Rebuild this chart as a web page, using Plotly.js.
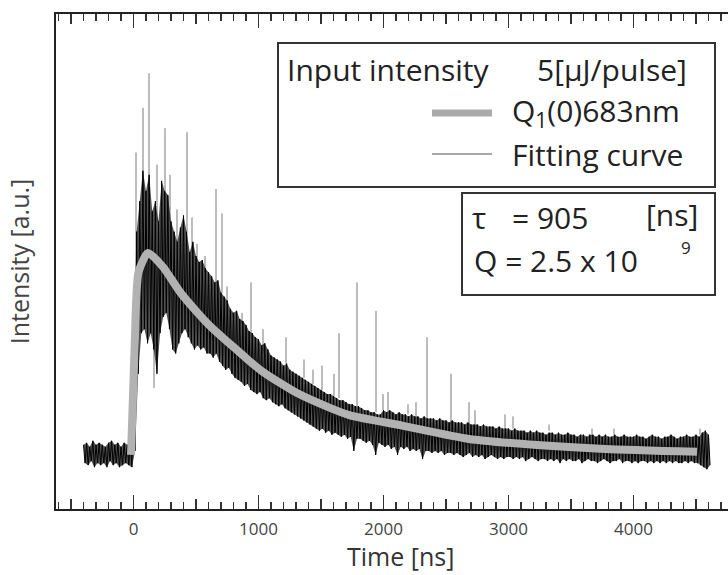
<!DOCTYPE html>
<html>
<head>
<meta charset="utf-8">
<script src="https://cdn.plot.ly/plotly-3.0.1.min.js"></script>
<style>
html,body{margin:0;padding:0;background:#fff;}
#chart{width:728px;height:575px;}
</style>
</head>
<body>
<div id="chart"></div>
<script>
// ---- Data (time in ns, intensity in arbitrary units, baseline = 0) ----
const sampleStartNs = -400;
const sampleStepNs = 25;

// upper / lower excursions of the noisy measured trace, one pair per 25 ns sample
const traceHigh = [
  0.05,0.06,0.04,0.07,0.05,0.06,0.05,0.04,0.06,0.07,0.05,0.06,0.04,0.06,0.05,0.07,
  0.35,1.10,1.25,1.40,1.30,1.38,1.20,1.25,1.15,1.35, 1.30,1.28,1.15,1.10,1.05,1.12,1.18,1.10,1.00,1.05,
  0.98,0.95,0.96,0.92,0.90,0.88,0.85,0.86,0.80,0.78, 0.76,0.72,0.70,0.71,0.67,0.66,0.64,0.61,0.60,0.58,
  0.57,0.54,0.55,0.52,0.49,0.48,0.47,0.46,0.44,0.45, 0.42,0.41,0.40,0.39,0.38,0.37,0.36,0.35,0.34,0.33,
  0.32,0.31,0.30,0.30,0.29,0.28,0.27,0.27,0.26,0.25, 0.25,0.24,0.24,0.23,0.22,0.22,0.21,0.21,0.20,0.20,
  0.22,0.21,0.22,0.21,0.20,0.21,0.20,0.20,0.19,0.20, 0.19,0.19,0.18,0.19,0.18,0.18,0.18,0.17,0.18,0.17,
  0.17,0.16,0.17,0.16,0.16,0.16,0.15,0.16,0.15,0.15, 0.15,0.14,0.15,0.14,0.14,0.14,0.13,0.14,0.13,0.13,
  0.13,0.12,0.13,0.12,0.12,0.12,0.11,0.12,0.11,0.12, 0.11,0.11,0.10,0.11,0.11,0.10,0.11,0.10,0.10,0.11,
  0.10,0.10,0.09,0.10,0.10,0.09,0.10,0.10,0.09,0.10, 0.09,0.10,0.09,0.09,0.10,0.09,0.09,0.10,0.09,0.09,
  0.09,0.10,0.09,0.09,0.08,0.09,0.10,0.09,0.09,0.08, 0.09,0.09,0.10,0.09,0.08,0.09,0.09,0.10,0.09,0.09,
  0.10,0.09,0.11,0.12,0.10
];
const traceLow = [
  -0.04,-0.05,-0.03,-0.06,-0.04,-0.05,-0.04,-0.06,-0.03,-0.05,-0.04,-0.06,-0.05,-0.04,-0.05,-0.06,
  0.02,0.40,0.60,0.62,0.55,0.60,0.52,0.40,0.60,0.68, 0.70,0.62,0.52,0.50,0.55,0.60,0.62,0.58,0.55,0.52,
  0.54,0.52,0.53,0.50,0.50,0.48,0.50,0.46,0.44,0.42, 0.43,0.40,0.38,0.37,0.36,0.34,0.35,0.32,0.31,0.30,
  0.31,0.28,0.27,0.28,0.26,0.25,0.24,0.25,0.23,0.22, 0.21,0.20,0.19,0.18,0.17,0.16,0.15,0.14,0.13,0.12,
  0.13,0.11,0.12,0.10,0.11,0.10,0.09,0.10,0.08,0.09, 0.02,0.08,0.08,0.07,0.06,0.07,0.05,0.00,0.06,0.05,
  0.04,0.05,0.03,0.04,0.00,0.04,0.03,0.04,0.02,0.03, 0.02,0.03,-0.02,0.02,0.02,0.01,0.02,0.01,0.02,0.00,
  0.01,0.01,0.00,0.01,0.00,-0.01,0.00,0.01,-0.01,0.00, -0.01,0.00,-0.02,-0.01,0.00,-0.01,-0.02,-0.01,-0.02,-0.01,
  -0.01,-0.02,-0.01,-0.02,-0.01,-0.03,-0.02,-0.01,-0.02,-0.03, -0.02,-0.02,-0.03,-0.02,-0.03,-0.02,-0.04,-0.02,-0.03,-0.02,
  -0.03,-0.03,-0.02,-0.04,-0.03,-0.02,-0.03,-0.03,-0.04,-0.03, -0.02,-0.03,-0.04,-0.03,-0.03,-0.02,-0.04,-0.03,-0.03,-0.04,
  -0.03,-0.04,-0.03,-0.03,-0.04,-0.03,-0.04,-0.03,-0.04,-0.03, -0.04,-0.03,-0.04,-0.03,-0.04,-0.04,-0.03,-0.04,-0.03,-0.04,
  -0.04,-0.05,-0.06,-0.07,-0.05
];

// isolated single-sample spikes: time, value where the spike leaves the band, spike tip
const spikeTime = [20,76,124,164,188,252,292,348,428,468,508,572,660,708,748,796,868,940,1036,1220,1364,1436,1508,1604,1644,1788,1940,1996,2036,2196,2260,2348,2540,2684,2732,2972,3036,3324,3668,3844,4532];
const spikeBase = [0.60,1.20,1.30,0.55,1.15,1.30,1.15,1.05,1.10,1.00,0.95,0.90,0.85,0.80,0.75,0.68,0.65,0.60,0.50,0.45,0.38,0.35,0.32,0.29,0.28,0.24,0.21,0.22,0.21,0.20,0.19,0.18,0.15,0.15,0.15,0.13,0.13,0.12,0.10,0.10,0.10];
const spikeTip  = [1.49,1.71,1.88,0.33,1.43,1.61,1.38,1.21,1.59,1.17,1.04,0.98,1.31,1.19,0.83,0.70,0.70,0.85,0.62,0.58,0.47,0.42,0.44,0.40,0.60,0.85,0.71,0.30,0.31,0.25,0.26,0.58,0.40,0.26,0.22,0.20,0.19,0.15,0.13,0.13,0.13];

// smooth grey curve
const curveTime  = [-20, 10, 40, 116, 236, 372, 508, 636, 772, 908, 1036, 1172, 1308, 1572, 1732, 2148, 2684, 3228, 3772, 4508];
const curveValue = [0, 0.55, 0.90, 0.995, 0.926, 0.803, 0.704, 0.621, 0.547, 0.473, 0.409, 0.355, 0.305, 0.232, 0.195, 0.145, 0.079, 0.049, 0.030, 0.016];

const xTickValues = [0, 1000, 2000, 3000, 4000];
const xTickLabels = ['0', '1000', '2000', '3000', '4000'];

// ---- build traces ----
const zigX = [], zigY = [], hiX = [], loX = [];
traceHigh.forEach((h, i) => {
  const t = sampleStartNs + i * sampleStepNs;
  zigX.push(t, t + sampleStepNs / 2);
  zigY.push(h, traceLow[i]);
  hiX.push(t);
  loX.push(t + sampleStepNs / 2);
});
const spX = [], spY = [];
spikeTime.forEach((t, i) => { spX.push(t, t, null); spY.push(spikeBase[i], spikeTip[i], null); });

const FONT = 'Open Sans, Noto Sans, sans-serif';
const traces = [
  {x: spX, y: spY, mode: 'lines', line: {color: '#7a7a7a', width: 1}, hoverinfo: 'skip', showlegend: false},
  {x: loX, y: traceLow, mode: 'lines', line: {width: 0, color: 'rgba(0,0,0,0)'}, hoverinfo: 'skip', showlegend: false},
  {x: hiX, y: traceHigh, mode: 'lines', line: {width: 0, color: 'rgba(0,0,0,0)'}, fill: 'tonexty', fillcolor: 'rgba(0,0,0,0.68)', hoverinfo: 'skip', showlegend: false},
  {x: zigX, y: zigY, mode: 'lines', line: {color: '#000', width: 1}, showlegend: false, name: 'Fitting curve'},
  {x: curveTime, y: curveValue, mode: 'lines', line: {color: '#b2b2b2', width: 8, shape: 'spline', smoothing: 0.6}, showlegend: false, name: 'Q1(0)683nm'},
  {x: [], y: [], xaxis: 'x2', yaxis: 'y', mode: 'lines', showlegend: false, hoverinfo: 'skip'}
];

// page-pixel helpers for the legend boxes (plot area spans x 56..728, y 14..509)
const L = 56, T = 14, W = 672, H = 495;
const px = v => (v - L) / W;
const py = v => (T + H - v) / H;

const txt = (s, x, y, anchor, size, color) => ({
  text: s, xref: 'paper', yref: 'paper', x: px(x), y: py(y), xanchor: anchor, yanchor: 'middle',
  showarrow: false, borderpad: 0, font: {family: FONT, size: size || 30, color: color || '#222'}
});

const layout = {
  width: 728, height: 575,
  margin: {l: L, r: 0, t: T, b: 575 - T - H},
  paper_bgcolor: '#fff', plot_bgcolor: '#fff',
  showlegend: false,
  xaxis: {
    range: [-620, 4756], showline: true, linewidth: 2, linecolor: '#222', mirror: 'ticks',
    ticks: 'inside', ticklen: 14, tickwidth: 1.5, tickcolor: '#333',
    tickmode: 'array', tickvals: xTickValues, ticktext: xTickLabels,
    minor: {dtick: 100, tick0: 0, ticks: 'inside', ticklen: 7, tickwidth: 1.5, tickcolor: '#333', showgrid: false},
    showgrid: false, zeroline: false, ticklabelstandoff: 4,
    tickfont: {family: FONT, size: 17, color: '#444'},
    fixedrange: true
  },
  xaxis2: {
    overlaying: 'x', anchor: 'y', side: 'bottom', range: [-620, 4756],
    ticks: 'inside', ticklen: 10, tickwidth: 1.5, tickcolor: '#333', dtick: 500, tick0: 0,
    showticklabels: false, showline: false, mirror: 'ticks', showgrid: false, zeroline: false, fixedrange: true
  },
  yaxis: {
    range: [-0.266, 2.172], showline: true, linewidth: 2, linecolor: '#222', ticks: '',
    showticklabels: false, showgrid: false, zeroline: false, fixedrange: true,
    title: {text: 'Intensity [a.u.]', font: {family: FONT, size: 25, color: '#444'}, standoff: 17}
  },
  shapes: [
    {type: 'rect', xref: 'paper', yref: 'paper', x0: px(278), x1: px(715), y0: py(187), y1: py(43), line: {color: '#333', width: 2}, fillcolor: 'rgba(0,0,0,0)'},
    {type: 'rect', xref: 'paper', yref: 'paper', x0: px(462), x1: px(715), y0: py(295), y1: py(193), line: {color: '#333', width: 2}, fillcolor: 'rgba(0,0,0,0)'},
    {type: 'line', xref: 'paper', yref: 'paper', x0: px(432), x1: px(492), y0: py(113), y1: py(113), line: {color: '#aaaaaa', width: 7}},
    {type: 'line', xref: 'paper', yref: 'paper', x0: px(432), x1: px(492), y0: py(154), y1: py(154), line: {color: '#555', width: 1.2}}
  ],
  annotations: [
    txt('Input intensity', 286, 70, 'left'),
    txt('5[μJ/pulse]', 688, 70, 'right'),
    txt('Q<sub>1</sub>(0)683nm', 511, 112, 'left'),
    txt('Fitting curve', 511, 155, 'left'),
    txt('τ', 471, 217, 'left'),
    txt('= 905', 511, 217, 'left'),
    txt('[ns]', 699, 215, 'right'),
    txt('Q = 2.5 x 10', 473, 260, 'left'),
    txt('9', 680, 247, 'left', 17),
    txt('Time [ns]', 400, 556, 'center', 25, '#333')
  ]
};

Plotly.newPlot('chart', traces, layout, {displayModeBar: false, staticPlot: true});
</script>
</body>
</html>
